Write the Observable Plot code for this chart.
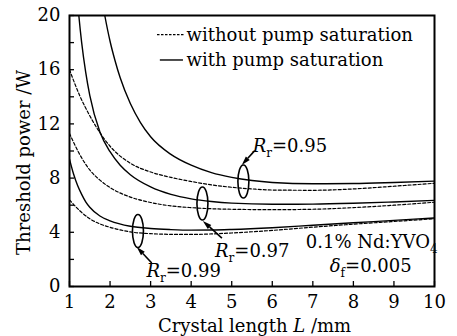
<!DOCTYPE html>
<html><head><meta charset="utf-8">
<script src="https://cdn.jsdelivr.net/npm/d3@7"></script>
<script src="https://cdn.jsdelivr.net/npm/@observablehq/plot@0.6"></script>
<style>
body{margin:0;background:#fff;}
svg, svg text, svg tspan{font-family:"DejaVu Serif","Liberation Serif",serif !important;}
</style></head><body><div id="chart"></div>
<script>
// ---- data ----
const xTicks = [1,2,3,4,5,6,7,8,9,10];
const yTickMarks = [0,2,4,6,8,10,12,14,16,18,20];
const yTickLabels = [0,4,8,12,16,20];

// Rr = 0.95
const s95L = [1.78,1.87,2.0,2.12,2.25,2.5,2.75,3.0,3.5,4.0,4.5,5.0,5.5,6,7,8,9,10];
const s95P = [21.5,20,18.1,16.7,15.4,13.5,12.1,11.05,9.75,8.95,8.4,8.05,7.82,7.68,7.58,7.6,7.68,7.78];
const d95L = [1,1.25,1.5,1.75,2,2.5,3,3.5,4,4.5,5,5.5,6,7,8,9,10];
const d95P = [16.0,14.1,12.6,11.35,10.35,9.1,8.45,8.05,7.75,7.5,7.32,7.2,7.12,7.1,7.2,7.4,7.62];
// Rr = 0.97
const s97L = [1.16,1.23,1.3,1.4,1.5,1.75,2.0,2.25,2.5,3.0,3.5,4.0,4.5,5,6,7,8,9,10];
const s97P = [22.5,20,18.0,15.8,14.1,11.4,9.95,8.95,8.25,7.35,6.8,6.47,6.27,6.15,6.07,6.08,6.14,6.24,6.36];
const d97L = [1,1.25,1.5,1.75,2,2.5,3,3.5,4,4.5,5,6,7,8,9,10];
const d97P = [11.3,9.75,8.6,7.85,7.3,6.6,6.2,5.95,5.82,5.74,5.7,5.67,5.7,5.82,6.0,6.22];
// Rr = 0.99
const s99L = [1,1.1,1.2,1.3,1.4,1.5,1.75,2,2.5,3,3.5,4,4.5,5,6,7,8,9,10];
const s99P = [9.4,8.3,7.45,6.8,6.25,5.85,5.2,4.85,4.45,4.28,4.2,4.16,4.17,4.21,4.34,4.52,4.7,4.88,5.06];
const d99L = [1,1.25,1.5,1.75,2,2.5,3,3.5,4,4.5,5,6,7,8,9,10];
const d99P = [6.4,5.6,5.0,4.62,4.37,4.03,3.9,3.85,3.84,3.88,3.95,4.14,4.38,4.6,4.8,5.0];

const seriesNames = ["S95","D95","S97","D97","S99","D99"];
const seriesDashed = [false,true,false,true,false,true];
const seriesL = [s95L,d95L,s97L,d97L,s99L,d99L];
const seriesP = [s95P,d95P,s97P,d97P,s99P,d99P];

// annotations (data coordinates)
const annLabels = ["0.95","0.97","0.99"];
const annTextL = [5.53,4.60,2.91];
const annTextP = [9.89,2.14,0.66];
const ellL = [5.30,4.29,2.70];
const ellP = [7.71,6.09,4.06];
const arrowFromL = [5.58,4.77,3.04];
const arrowFromP = [9.99,3.54,1.70];
const arrowToL = [5.26,4.30,2.67];
const arrowToP = [8.93,4.80,2.88];

const legendLabels = ["without pump saturation","with pump saturation"];
const legendDashed = [true,false];
const legendL1 = [3.17,3.24];
const legendL2 = [3.86,3.81];
const legendP = [18.55,16.68];
const legendTextL = 3.90;
const legendTextP = [18.1,16.25];

const FONT = "DejaVu Serif";

// ---- build table ----
const rows = [];
seriesNames.forEach((name,i)=>{
  seriesL[i].forEach((l,j)=>rows.push({series:name, dashed:seriesDashed[i], L:l, P:seriesP[i][j]}));
});

const plot = Plot.plot({
  width: 457, height: 336,
  marginLeft: 69, marginRight: 23, marginTop: 15, marginBottom: 50,
  x: {domain:[1,10]},
  y: {domain:[0,20]},
  style: {fontSize:"18px", color:"black", background:"white"},
  marks: [
    Plot.axisX(xTicks, {tickSize:0, tickPadding:9, label:null, tickFormat:d=>String(d)}),
    Plot.axisX(xTicks, {tickSize:-5, tickFormat:()=>"", label:null, strokeWidth:1.3}),
    Plot.axisY(yTickLabels, {tickSize:0, tickPadding:9, label:null, tickFormat:d=>String(d)}),
    Plot.axisY(yTickMarks, {tickSize:-5, tickFormat:()=>"", label:null, strokeWidth:1.3}),
    Plot.line(rows.filter(d=>!d.dashed), {x:"L", y:"P", z:"series", stroke:"black", strokeWidth:1.4, curve:"monotone-x", clip:true}),
    Plot.line(rows.filter(d=>d.dashed), {x:"L", y:"P", z:"series", stroke:"black", strokeWidth:1.2, strokeDasharray:"3,2", curve:"monotone-x", clip:true}),
    Plot.frame({stroke:"black", strokeWidth:2})
  ]
});
plot.setAttribute("font-family", FONT);
document.getElementById("chart").appendChild(plot);

// ---- decorations through the plot's scales ----
const sx = plot.scale("x"), sy = plot.scale("y");
const X = v => sx.apply(v), Y = v => sy.apply(v);
const svg = d3.select(plot);
const g = svg.append("g").attr("fill","black").attr("font-family",FONT).attr("text-anchor","start");

function rich(x, y, parts, anchor){
  const t = g.append("text").attr("x",x).attr("y",y).attr("font-size",18).attr("text-anchor",anchor||"start");
  let shift = 0;
  parts.forEach(p=>{
    const s = t.append("tspan").text(p.t);
    if (p.i) s.attr("font-style","italic");
    if (p.sub){ s.attr("font-size",12).attr("dy",5 - shift); shift = 5; }
    else if (shift){ s.attr("dy",-shift); shift = 0; }
  });
  return t;
}

// ellipses
ellL.forEach((l,i)=>{
  g.append("ellipse").attr("cx",X(l)).attr("cy",Y(ellP[i])).attr("rx",5.5).attr("ry",16.5)
    .attr("fill","none").attr("stroke","black").attr("stroke-width",1.6);
});
// arrows with filled heads
arrowFromL.forEach((l,i)=>{
  const x1=X(l), y1=Y(arrowFromP[i]), x2=X(arrowToL[i]), y2=Y(arrowToP[i]);
  const dx=x2-x1, dy=y2-y1, len=Math.hypot(dx,dy), ux=dx/len, uy=dy/len;
  const hl=9, hw=2.6;
  const bx=x2-ux*hl, by=y2-uy*hl;
  g.append("line").attr("x1",x1).attr("y1",y1).attr("x2",bx).attr("y2",by).attr("stroke","black").attr("stroke-width",1.6);
  g.append("path").attr("d",`M${x2},${y2}L${bx-uy*hw},${by+ux*hw}L${bx+uy*hw},${by-ux*hw}Z`).attr("fill","black");
});
// Rr labels
annLabels.forEach((s,i)=>{
  rich(X(annTextL[i]), Y(annTextP[i]), [{t:"R",i:true},{t:"r",sub:true},{t:"="+s}]);
});
rich(X(6.84), Y(2.80), [{t:"0.1% Nd:YVO"},{t:"4",sub:true}]);
rich(X(7.43), Y(1.03), [{t:"δ",i:true},{t:"f",sub:true},{t:"=0.005"}]);

// legend
legendLabels.forEach((s,i)=>{
  g.append("line").attr("x1",X(legendL1[i])).attr("x2",X(legendL2[i])).attr("y1",Y(legendP[i])).attr("y2",Y(legendP[i]))
   .attr("stroke","black").attr("stroke-width",legendDashed[i]?1.1:1.4).attr("stroke-dasharray",legendDashed[i]?"2.5,1.5":null);
  g.append("text").attr("x",X(legendTextL)).attr("y",Y(legendTextP[i])).attr("font-size",18).attr("text-anchor","start").text(s);
});

// axis titles
const xt = g.append("text").attr("x",(X(1)+X(10))/2+3).attr("y",332).attr("text-anchor","middle").attr("font-size",18);
xt.append("tspan").text("Crystal length ");
xt.append("tspan").attr("font-style","italic").text("L");
xt.append("tspan").text(" /mm");
g.append("text").attr("transform",`translate(30,${(Y(0)+Y(20))/2+12}) rotate(-90)`).attr("text-anchor","middle").attr("font-size",18).text("Threshold power /W");
</script>
</body></html>
